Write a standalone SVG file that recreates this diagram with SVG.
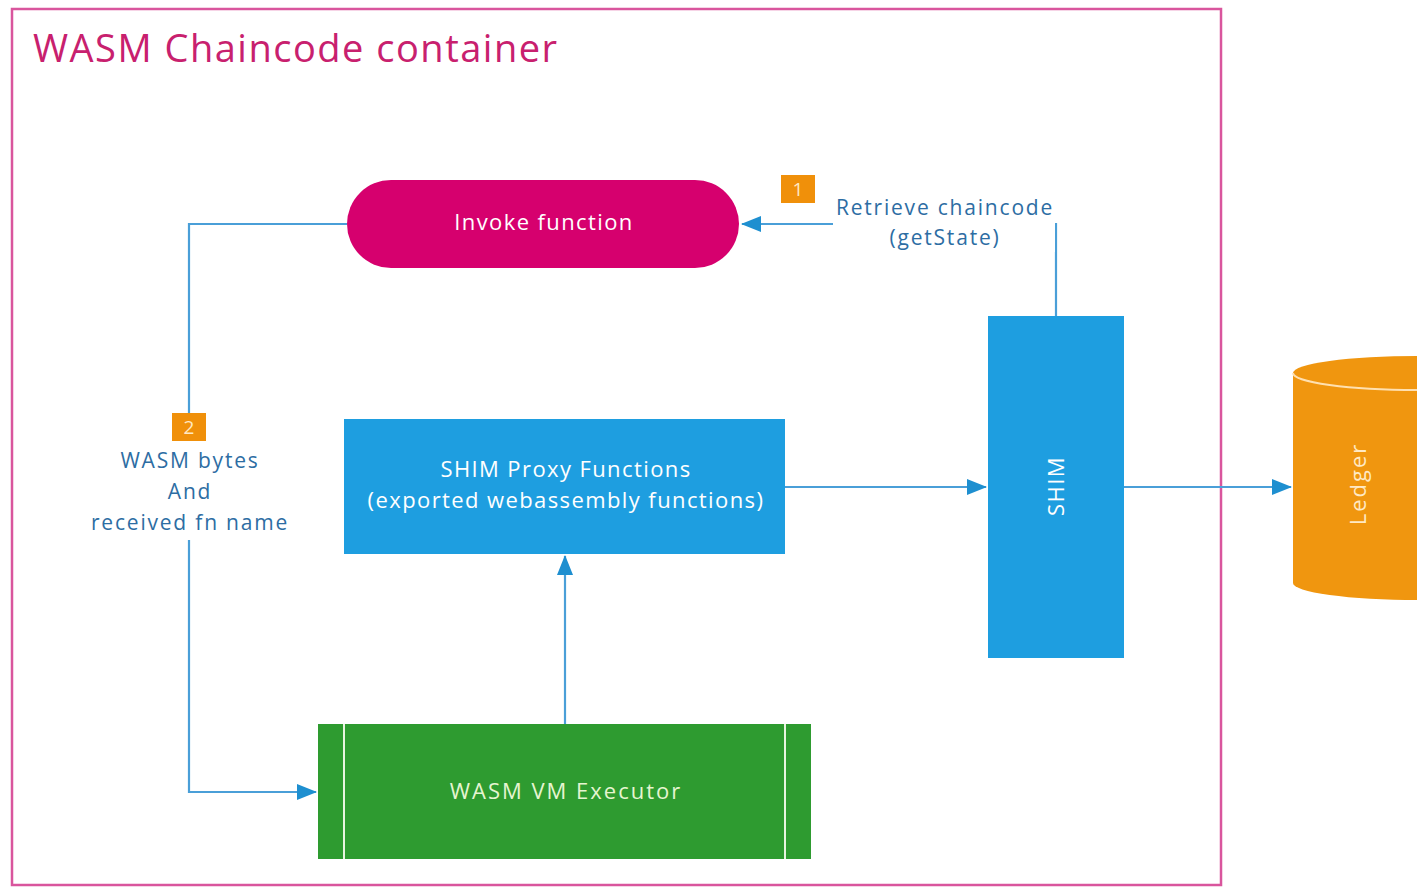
<svg xmlns="http://www.w3.org/2000/svg" width="1417" height="887" viewBox="0 0 1417 887">
<defs>
<style>
.lbl{font-family:"Open Sans","Noto Sans","DejaVu Sans",sans-serif;font-size:21px;fill:#2d6da3;text-anchor:middle;letter-spacing:1.8px}
.wt{font-family:"Open Sans","Noto Sans","DejaVu Sans",sans-serif;font-size:22px;fill:#ffffff;text-anchor:middle;letter-spacing:1.4px}
.conn{fill:none;stroke:#4a9fd8;stroke-width:2.2}
.badge{fill:#f0900a}
.bt{font-family:"Open Sans","Noto Sans",sans-serif;font-size:19px;fill:#ffe9c4;text-anchor:middle}
</style>
<marker id="arrL" viewBox="0 0 20 16" refX="19" refY="8" markerWidth="20" markerHeight="16" markerUnits="userSpaceOnUse" orient="auto">
<path d="M0,0 L20,8 L0,16 Z" fill="#1e8fd0"/>
</marker>
</defs>
<rect width="1417" height="887" fill="#ffffff"/>
<g id="container">
<rect x="12" y="9" width="1209" height="876" fill="none" stroke="#d9559d" stroke-width="2.5"/>
<text x="33" y="62" style="font-family:'Open Sans','Noto Sans',sans-serif;font-size:38px;letter-spacing:1.5px;fill:#c8206e">WASM Chaincode container</text>
</g>
<g id="connectors">
<path class="conn" d="M347,224 H189 V413"/>
<path class="conn" d="M189,540 V792 H316" marker-end="url(#arrL)"/>
<path class="conn" d="M1056,316 V224 H742" marker-end="url(#arrL)"/>
<path class="conn" d="M785,487 H986" marker-end="url(#arrL)"/>
<path class="conn" d="M1124,487 H1291" marker-end="url(#arrL)"/>
<path class="conn" d="M565,724 V556" marker-end="url(#arrL)"/>
<rect x="833" y="194" width="222" height="58" fill="#ffffff"/>
<text class="lbl" x="945" y="215">Retrieve chaincode</text>
<text class="lbl" x="945" y="245">(getState)</text>
<rect class="badge" x="781" y="175" width="34" height="28"/>
<text class="bt" x="798" y="196">1</text>
<rect class="badge" x="172" y="413" width="34" height="28"/>
<text class="bt" x="189" y="434">2</text>
<text class="lbl" x="190" y="468">WASM bytes</text>
<text class="lbl" x="190" y="499">And</text>
<text class="lbl" x="190" y="530">received fn name</text>
</g>
<g id="invoke">
<rect x="347" y="180" width="392" height="88" rx="44" ry="44" fill="#d6006e"/>
<text class="wt" x="544" y="230">Invoke function</text>
</g>
<g id="proxy">
<rect x="344" y="419" width="441" height="135" fill="#1e9ee0"/>
<text class="wt" x="566" y="477">SHIM Proxy Functions</text>
<text class="wt" x="566" y="508">(exported webassembly functions)</text>
</g>
<g id="shim">
<rect x="988" y="316" width="136" height="342" fill="#1e9ee0"/>
<text class="wt" transform="translate(1064,487) rotate(-90)" x="1" y="0">SHIM</text>
</g>
<g id="executor">
<rect x="318" y="724" width="493" height="135" fill="#2e9b30"/>
<line x1="344" y1="724" x2="344" y2="859" stroke="#e8f5e0" stroke-width="2"/>
<line x1="785" y1="724" x2="785" y2="859" stroke="#e8f5e0" stroke-width="2"/>
<text class="wt" x="566" y="799" style="fill:#e6f5d0;letter-spacing:2px">WASM VM Executor</text>
</g>
<g id="ledger">
<path d="M1293,373 A125,17 0 0 1 1543,373 V583 A125,17 0 0 1 1293,583 Z" fill="#f0960f"/>
<path d="M1293,373 A125,17 0 0 0 1543,373" fill="none" stroke="#ffe0b0" stroke-width="2"/>
<text class="wt" transform="translate(1366,485) rotate(-90)" x="1" y="0" style="fill:#ffe9c4;letter-spacing:2px">Ledger</text>
</g>
</svg>
